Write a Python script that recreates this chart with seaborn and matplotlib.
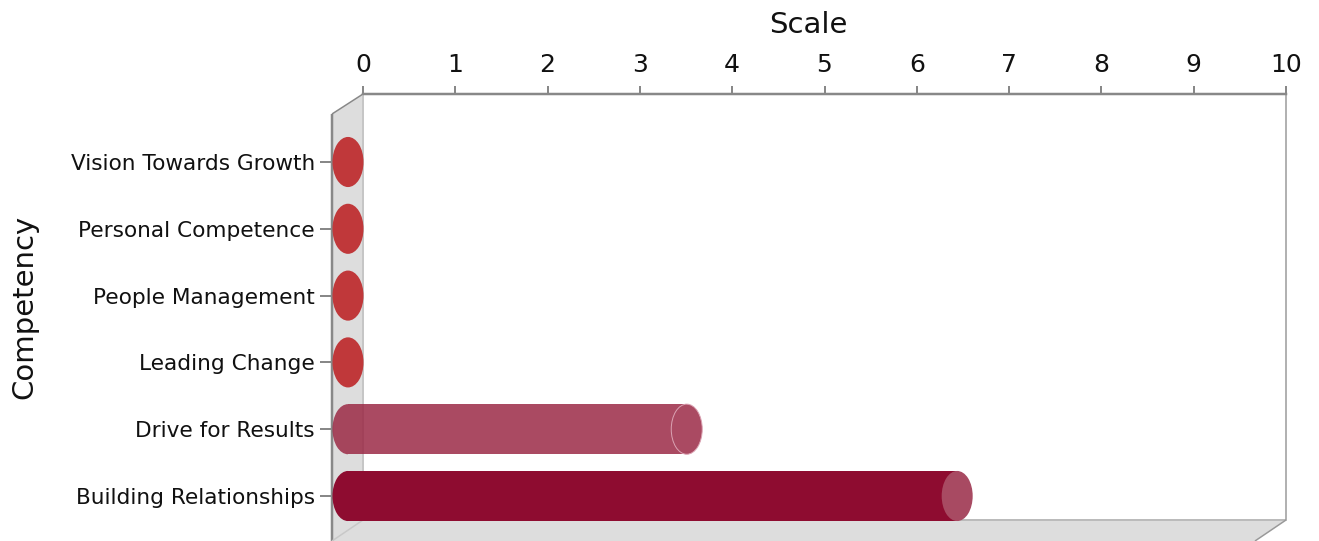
import numpy as np
import pandas as pd
import matplotlib
matplotlib.use("Agg")
import matplotlib.pyplot as plt
import seaborn as sns
from matplotlib.patches import Ellipse, Polygon, Rectangle
from matplotlib.lines import Line2D
from matplotlib.transforms import ScaledTranslation

# ---------------- data ----------------
categories = ["Vision Towards Growth", "Personal Competence", "People Management",
              "Leading Change", "Drive for Results", "Building Relationships"]
values = [0, 0, 0, 0, 3.67, 6.6]
body_colors = ["#c0383a", "#c0383a", "#c0383a", "#c0383a", "#9b2a46", "#8e0c30"]
body_alpha = [1, 1, 1, 1, 0.85, 1]
cap_colors = ["#c0383a", "#c0383a", "#c0383a", "#c0383a", "#aa4a62", "#a84a62"]
x_ticks = list(range(0, 11))
x_label = "Scale"
y_label = "Competency"

# ---------------- layout (pixels, top-left origin) ----------------
W, H, DPI = 1319, 541, 100
AX_L, AX_R, AX_T, AX_B = 363, 1286, 94, 520
DX, DY = 31, 20            # 3D depth offset
FLOOR_DY = 21
BAR_SHIFT = 15             # bars drawn at mid depth
ROW_PX, FIRST_ROW_PX = 66.8, 162
CAP_PX = 31
PT = 72.0 / DPI

sns.set_theme(style="ticks")
plt.rcParams['font.family'] = ['DejaVu Sans']

fig = plt.figure(figsize=(W / DPI, H / DPI), dpi=DPI)
fig.patch.set_facecolor("white")
ax = fig.add_axes([AX_L / W, 1 - AX_B / H, (AX_R - AX_L) / W, (AX_B - AX_T) / H])
ax.set_facecolor("none")

df = pd.DataFrame({"Competency": categories, "Scale": values})
sns.barplot(data=df, x="Scale", y="Competency", orient="h", order=categories,
            hue="Competency", hue_order=categories,
            palette=dict(zip(categories, body_colors)), legend=False,
            width=0.75, linewidth=0, saturation=1, ax=ax)

ax.set_xlim(0, 10)
ax.set_ylim((AX_B - FIRST_ROW_PX) / ROW_PX, (AX_T - FIRST_ROW_PX) / ROW_PX)

off = ax.transData + ScaledTranslation(-BAR_SHIFT / DPI, 0, fig.dpi_scale_trans)
cap_w = CAP_PX / ((AX_R - AX_L) / 10.0)
bar_h = 0.75

for p in ax.patches:
    i = int(round(p.get_y() + p.get_height() / 2))
    p.set_transform(off)
    p.set_alpha(body_alpha[i])
    p.set_clip_on(False)
    p.set_zorder(2)

for i, v in enumerate(values):
    if v > 0:
        left = Ellipse((0, i), cap_w, bar_h, facecolor=body_colors[i], alpha=body_alpha[i],
                       linewidth=0, transform=off, zorder=2)
        clip = Rectangle((-1, i - 1), 1, 2, transform=off)
        ax.add_patch(left)
        left.set_clip_path(clip)
        edge = "#dba3b3" if body_alpha[i] < 1 else "none"
        ax.add_patch(Ellipse((v, i), cap_w, bar_h, facecolor=cap_colors[i], edgecolor=edge,
                             linewidth=0.7, transform=off, zorder=3, clip_on=False))
    else:
        ax.add_patch(Ellipse((0, i), cap_w, bar_h, facecolor=cap_colors[i], linewidth=0,
                             transform=off, zorder=3, clip_on=False))

# ---------------- axes styling ----------------
ax.xaxis.tick_top()
ax.xaxis.set_label_position("top")
ax.set_xticks(x_ticks)
ax.set_xticklabels([str(t) for t in x_ticks])
ax.tick_params(axis="x", which="both", top=True, bottom=False, direction="out",
               length=8 * PT, width=2 * PT, color="#888888", pad=9 * PT,
               labelsize=18, labelcolor="#111111")
ax.tick_params(axis="y", left=True, direction="out", length=12 * PT, width=2 * PT,
               color="#888888", pad=5 * PT, labelsize=15.6, labelcolor="#111111")

ax.spines["top"].set_color("#888888")
ax.spines["top"].set_linewidth(2.5 * PT)
ax.spines["right"].set_color("#999999")
ax.spines["right"].set_linewidth(1.5 * PT)
ax.spines["bottom"].set_visible(False)
ax.spines["left"].set_position(("outward", DX * PT))
ax.spines["left"].set_color("none")

ax.set_xlabel(x_label, fontsize=21, color="#111111")
ax.set_ylabel(y_label, fontsize=21, color="#111111")
ax.xaxis.set_label_coords(0.483, (AX_B - 25) / (AX_B - AX_T))
ax.xaxis.label.set_va("center")
ax.yaxis.set_label_coords((24 - AX_L) / (AX_R - AX_L), 0.5)
ax.yaxis.label.set_va("center")

# ---------------- 3D wall and floor ----------------
def F(x, y):
    return (x / W, 1 - y / H)

wall = Polygon([F(AX_L, AX_T), F(AX_L - DX, AX_T + DY), F(AX_L - DX, H + 5), F(AX_L, H + 5)],
               closed=True, facecolor="#dddddd", edgecolor="none",
               transform=fig.transFigure, zorder=-2)
floor = Polygon([F(AX_L, AX_B), F(AX_R, AX_B), F(AX_R - DX, AX_B + FLOOR_DY),
                 F(AX_L - DX, AX_B + FLOOR_DY)],
                closed=True, facecolor="#dddddd", edgecolor="none",
                transform=fig.transFigure, zorder=-2)
fig.add_artist(wall)
fig.add_artist(floor)

def seg(p0, p1, color, lw):
    fig.add_artist(Line2D([p0[0], p1[0]], [p0[1], p1[1]], color=color, linewidth=lw * PT,
                          transform=fig.transFigure, zorder=-1, solid_capstyle="butt"))

seg(F(AX_L - DX, AX_T + DY), F(AX_L - DX, H + 2), "#888888", 2.5)
seg(F(AX_L, AX_T), F(AX_L - DX, AX_T + DY), "#888888", 1.5)
seg(F(AX_L, AX_T), F(AX_L, AX_B), "#c6c6c6", 2)
seg(F(AX_L, AX_B), F(AX_R, AX_B), "#bbbbbb", 2)
seg(F(AX_L, AX_B), F(AX_L - DX, AX_B + FLOOR_DY), "#c8c8c8", 1.5)
seg(F(AX_R, AX_B), F(AX_R - DX, AX_B + FLOOR_DY), "#999999", 1.5)

fig.savefig("out.png", dpi=DPI)
